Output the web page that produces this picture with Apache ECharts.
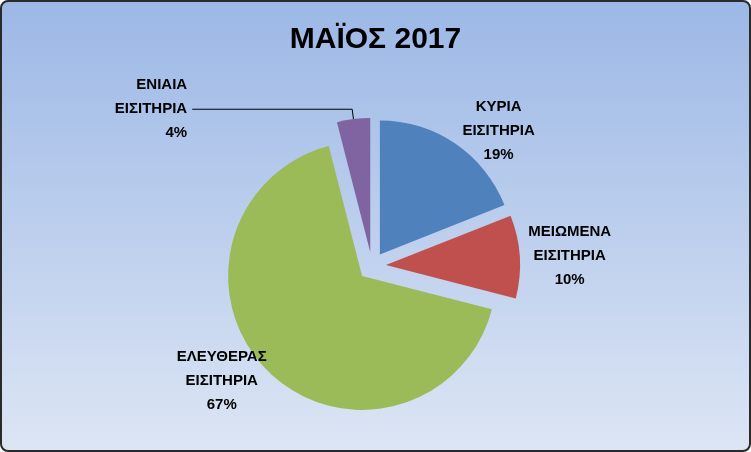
<!DOCTYPE html><html><head><meta charset="utf-8">
<script src="https://cdn.jsdelivr.net/npm/echarts@6/dist/echarts.min.js"></script>
<style>html,body{margin:0;padding:0;background:#fff;}
#c{position:absolute;left:0px;top:0px;width:747px;height:448px;border:2px solid #2a2a2a;border-radius:8px;background:linear-gradient(#9cb8e6,#dce5f4);}
</style></head><body><div id="c"></div>
<script>
const title = 'ΜΑΪΟΣ 2017';
const categories = ['ΚΥΡΙΑ\nΕΙΣΙΤΗΡΙΑ','ΜΕΙΩΜΕΝΑ\nΕΙΣΙΤΗΡΙΑ','ΕΛΕΥΘΕΡΑΣ\nΕΙΣΙΤΗΡΙΑ','ΕΝΙΑΙΑ\nΕΙΣΙΤΗΡΙΑ'];
const values = [19,10,67,4];
const colors = ['#4f81bd','#c0504d','#9bbb59','#8064a2'];
const labelPos = [[525,108],[565,247],[290,333]];
const chart = echarts.init(document.getElementById('c'));
const lbl = {fontSize:15,fontWeight:'bold',color:'#000',fontFamily:'Liberation Sans',lineHeight:24,align:'center'};
chart.setOption({
 title:{text:title,left:'center',top:18,textStyle:{fontSize:30,fontWeight:'bold',color:'#000',fontFamily:'Liberation Sans'}},
 series:[{type:'pie',center:[370,264],radius:134,startAngle:90,clockwise:true,
  selectedMode:'multiple',selectedOffset:14,animation:false,
  label:{...lbl,formatter:'{b}\n{d}%'},
  labelLayout:function(p){ const q=labelPos[p.dataIndex]; return q?{x:q[0],y:q[1],align:'center',verticalAlign:'middle'}:{}; },
  data:categories.map((n,i)=>{
   const d={name:n,value:values[i],selected:true,itemStyle:{color:colors[i]},labelLine:{show:false}};
   if(i<3) d.label={position:'outside',align:'center'};
   if(i===3){d.label={position:'outside',align:'center',width:90};d.labelLine={show:true,length:10,length2:160,lineStyle:{color:'#000',width:1}};}
   return d;})
 }]
});
</script></body></html>
